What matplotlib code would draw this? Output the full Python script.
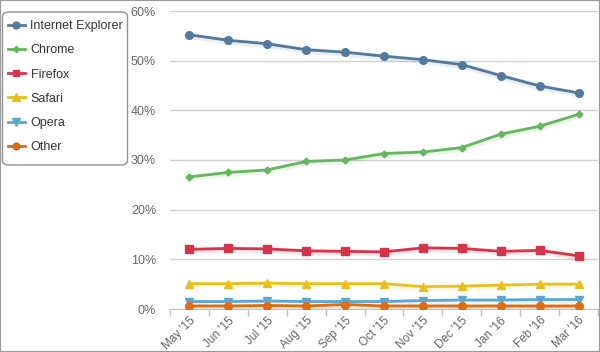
import matplotlib
matplotlib.use("Agg")
import matplotlib.pyplot as plt
from matplotlib.lines import Line2D
from matplotlib.patches import Rectangle, FancyBboxPatch

months = ["May '15", "Jun '15", "Jul '15", "Aug '15", "Sep '15", "Oct '15",
          "Nov '15", "Dec '15", "Jan '16", "Feb '16", "Mar '16"]
ie      = [55.2, 54.1, 53.4, 52.2, 51.7, 50.9, 50.2, 49.2, 47.0, 44.9, 43.5]
chrome  = [26.6, 27.5, 28.0, 29.7, 30.0, 31.3, 31.6, 32.5, 35.2, 36.8, 39.2]
firefox = [12.0, 12.2, 12.1, 11.7, 11.6, 11.5, 12.3, 12.2, 11.6, 11.8, 10.7]
safari  = [5.1, 5.1, 5.2, 5.1, 5.1, 5.1, 4.5, 4.6, 4.8, 5.0, 5.0]
opera   = [1.5, 1.5, 1.6, 1.5, 1.5, 1.5, 1.7, 1.8, 1.8, 1.9, 1.9]
other   = [0.6, 0.6, 0.7, 0.6, 0.9, 0.6, 0.6, 0.6, 0.6, 0.6, 0.6]
yticks = [0, 10, 20, 30, 40, 50, 60]

series = [
    ("Internet Explorer", ie, "#527a9e", "o", 5.5),
    ("Chrome", chrome, "#63b75c", "D", 3.5),
    ("Firefox", firefox, "#d9334a", "s", 5.5),
    ("Safari", safari, "#e9c01b", "^", 6),
    ("Opera", opera, "#5aa7d4", "v", 6),
    ("Other", other, "#e06b10", "o", 5.5),
]

W, H = 600, 352
plt.rcParams['font.family'] = ['Liberation Sans', 'DejaVu Sans']
fig = plt.figure(figsize=(W / 100, H / 100), dpi=100)
fig.patches.append(Rectangle((0, 0), 1, 1, transform=fig.transFigure,
                             fill=False, edgecolor="#999999", linewidth=1.5))
ax = fig.add_axes([170/W, 1-309/H, 428/W, 298/H])
x = list(range(len(months)))

handles = []
for name, vals, col, mk, ms in series:
    ax.plot([xi + 0.02 for xi in x], [v - 0.25 for v in vals], color=col, lw=4.5,
            alpha=0.12, zorder=2, solid_capstyle="round")
    ax.plot(x, vals, color=col, lw=2, marker=mk, markersize=ms, zorder=3)
    handles.append(Line2D([], [], color=col, lw=2, marker=mk, markersize=ms * 0.9, label=name))

ax.set_xlim(-0.5, 10.5)
ax.set_ylim(0, 60)
ax.set_yticks(yticks)
ax.set_yticklabels([f"{t}%" for t in yticks], fontsize=9, color="#666666")
ax.set_xticks(x)
ax.set_xticklabels(months, rotation=45, ha="right", va="top", rotation_mode="anchor",
                   fontsize=8.5, color="#666666")
ax.tick_params(axis="x", which="major", length=0, pad=4)
ax.set_xticks([i - 0.5 for i in range(12)], minor=True)
ax.tick_params(axis="x", which="minor", length=5, color="#c0c0c0", width=1)
ax.tick_params(axis="y", length=0, pad=10)
ax.grid(axis="y", color="#d0d0d0", lw=1)
ax.set_axisbelow(True)
for s in ["top", "right", "left"]:
    ax.spines[s].set_visible(False)
ax.spines["bottom"].set_color("#c0c0c0")

# legend frame drawn in figure pixels
frame = FancyBboxPatch((2.5/W, 1-165/H), 125/W, 153/H, transform=fig.transFigure,
                       boxstyle="round,pad=0,rounding_size=0.012",
                       facecolor="white", edgecolor="#909090", linewidth=1, zorder=0)
fig.patches.append(frame)

leg = fig.legend(handles=handles, loc="upper left", bbox_to_anchor=(8/W, 1-20/H),
                 frameon=False, fontsize=9, handlelength=1.35,
                 labelspacing=0.98, borderpad=0, handletextpad=0.45, borderaxespad=0)
for t in leg.get_texts():
    t.set_color("#333333")

fig.savefig("out.png", dpi=100)
